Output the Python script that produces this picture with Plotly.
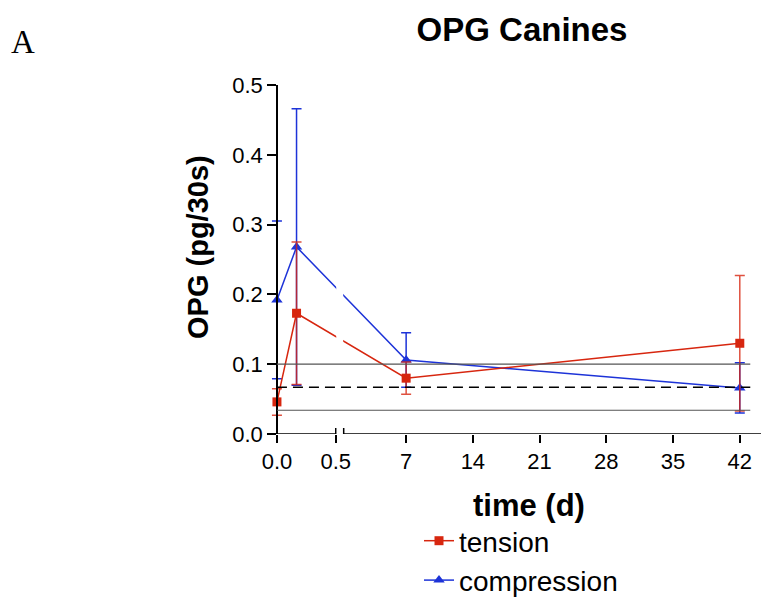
import plotly.graph_objects as go

# ---------------- data ----------------
days = [0, 1 / 6, 7, 42]                 # 0 h, 4 h, 7 d, 42 d
tension_mean = [0.046, 0.173, 0.080, 0.130]
tension_sd = [0.019, 0.102, 0.023, 0.097]
compression_mean = [0.192, 0.268, 0.106, 0.066]
compression_sd = [0.113, 0.198, 0.039, 0.036]
control_mean = 0.067
control_sd = 0.033
x_tick_days = [0, 0.5, 7, 14, 21, 28, 35, 42]
x_tick_labels = ["0.0", "0.5", "7", "14", "21", "28", "35", "42"]
y_ticks = [0.0, 0.1, 0.2, 0.3, 0.4, 0.5]

# ---------------- broken x-axis scale ----------------
SEG1_SCALE = 118.0      # units per day in the 0-0.5 d segment
SEG2_SCALE = 9.571      # units per day in the 7-42 d segment
SEG2_DAY7 = 129.7       # position of day 7
BREAK_LO, BREAK_HI = 59.0, 67.0
X_MIN, X_MAX = -12.0, 490.0
REF_END_DAY = 43.1


def xpos(d):
    if d <= 0.5:
        return d * SEG1_SCALE
    return SEG2_DAY7 + (d - 7) * SEG2_SCALE


RED = "#d7260f"
BLUE = "#1d33d8"
FONT = "Liberation Sans, Arial, Helvetica, sans-serif"

# page body has an 8px margin; the figure is sized to fill the rest of the window
OFF = 8
W, H = 769 - OFF, 597 - OFF
ML, MR, MT, MB = 265 - OFF, 4, 85 - OFF, 163
PW = W - ML - MR
PH = H - MT - MB


def pxx(px):   # window pixel -> paper x
    return (px - OFF - ML) / PW


def pxy(py):   # window pixel -> paper y
    return (H - MB - (py - OFF)) / PH


xs = [xpos(d) for d in days]

fig = go.Figure()

fig.add_trace(go.Scatter(
    x=xs, y=compression_mean, mode="lines+markers", name="compression",
    line=dict(color=BLUE, width=1.5),
    marker=dict(symbol="triangle-up", size=10, color=BLUE),
    error_y=dict(type="data", array=compression_sd, visible=True,
                 color=BLUE, thickness=1.5, width=5),
    cliponaxis=False, legendgroup="c", legendrank=2,
))
fig.add_trace(go.Scatter(
    x=xs, y=tension_mean, mode="lines+markers", name="tension",
    line=dict(color=RED, width=1.5),
    marker=dict(symbol="square", size=9, color=RED),
    error_y=dict(type="data", array=tension_sd, visible=True,
                 color="rgba(215,38,15,0.8)", thickness=1.5, width=5),
    cliponaxis=False, legendgroup="t", legendrank=1,
))

shapes = []
# gap in the data lines at the axis break
shapes.append(dict(type="rect", xref="x", yref="y", x0=BREAK_LO + 0.5, x1=BREAK_HI - 0.5,
                   y0=0.004, y1=0.5, fillcolor="white", line=dict(width=0), layer="above"))
# control reference lines
x_end = xpos(REF_END_DAY)
for yv, col, dash, wd in [(control_mean + control_sd, "#555555", "solid", 1.2),
                          (control_mean - control_sd, "#555555", "solid", 1.2),
                          (control_mean, "black", "10px,6px", 1.5)]:
    shapes.append(dict(type="line", xref="x", yref="y", x0=0, x1=x_end, y0=yv, y1=yv,
                       line=dict(color=col, width=wd, dash=dash), layer="above"))
# x axis line with break
shapes.append(dict(type="line", xref="x", yref="y", x0=0, x1=BREAK_LO, y0=0, y1=0,
                   line=dict(color="black", width=1.5), layer="above"))
shapes.append(dict(type="line", xref="x", yref="y", x0=BREAK_HI, x1=X_MAX, y0=0, y1=0,
                   line=dict(color="black", width=1.5), layer="above"))
for bx in (BREAK_LO, BREAK_HI):
    shapes.append(dict(type="line", xref="x", yref="y", ysizemode="pixel",
                       yanchor=0, x0=bx, x1=bx, y0=-6, y1=6,
                       line=dict(color="black", width=1.5), layer="above"))

fig.update_layout(
    width=W, height=H,
    margin=dict(l=ML, r=MR, t=MT, b=MB, autoexpand=False),
    paper_bgcolor="white", plot_bgcolor="white",
    font=dict(family=FONT, color="black"),
    showlegend=True,
    legend=dict(x=pxx(419), y=pxy(516), xanchor="left", yanchor="top",
                font=dict(size=28, family=FONT), traceorder="grouped",
                tracegroupgap=0, bgcolor="rgba(0,0,0,0)"),
    title=dict(text="<b>OPG Canines</b>", x=(522 - OFF) / W, y=1 - (29 - OFF) / H,
               xanchor="center", yanchor="middle", font=dict(size=33, family=FONT)),
    shapes=shapes,
    xaxis=dict(range=[X_MIN, X_MAX], showgrid=False, zeroline=False, showline=False,
               tickvals=[xpos(d) for d in x_tick_days], ticktext=x_tick_labels,
               ticks="outside", ticklen=8, tickwidth=1.5, tickcolor="black",
               tickfont=dict(size=22, family=FONT)),
    yaxis=dict(range=[0, 0.5], showgrid=False, zeroline=False, showline=True,
               linecolor="black", linewidth=1.5, anchor="free", position=pxx(277),
               tickvals=y_ticks, tickformat=".1f",
               ticks="outside", ticklen=9, tickwidth=1.5, tickcolor="black",
               tickfont=dict(size=22, family=FONT)),
    annotations=[
        dict(text="<b>OPG (pg/30s)</b>", xref="paper", yref="paper", x=pxx(198), y=pxy(247),
             textangle=-90, showarrow=False, font=dict(size=29, family=FONT),
             xanchor="center", yanchor="middle"),
        dict(text="<b>time (d)</b>", xref="paper", yref="paper", x=pxx(529), y=pxy(505),
             showarrow=False, font=dict(size=31, family=FONT),
             xanchor="center", yanchor="middle"),
        dict(text="A", xref="paper", yref="paper", x=pxx(23), y=pxy(42),
             showarrow=False, font=dict(size=33, family="Liberation Serif, Times New Roman, serif"),
             xanchor="center", yanchor="middle"),
    ],
)

fig.write_html("out.html")
